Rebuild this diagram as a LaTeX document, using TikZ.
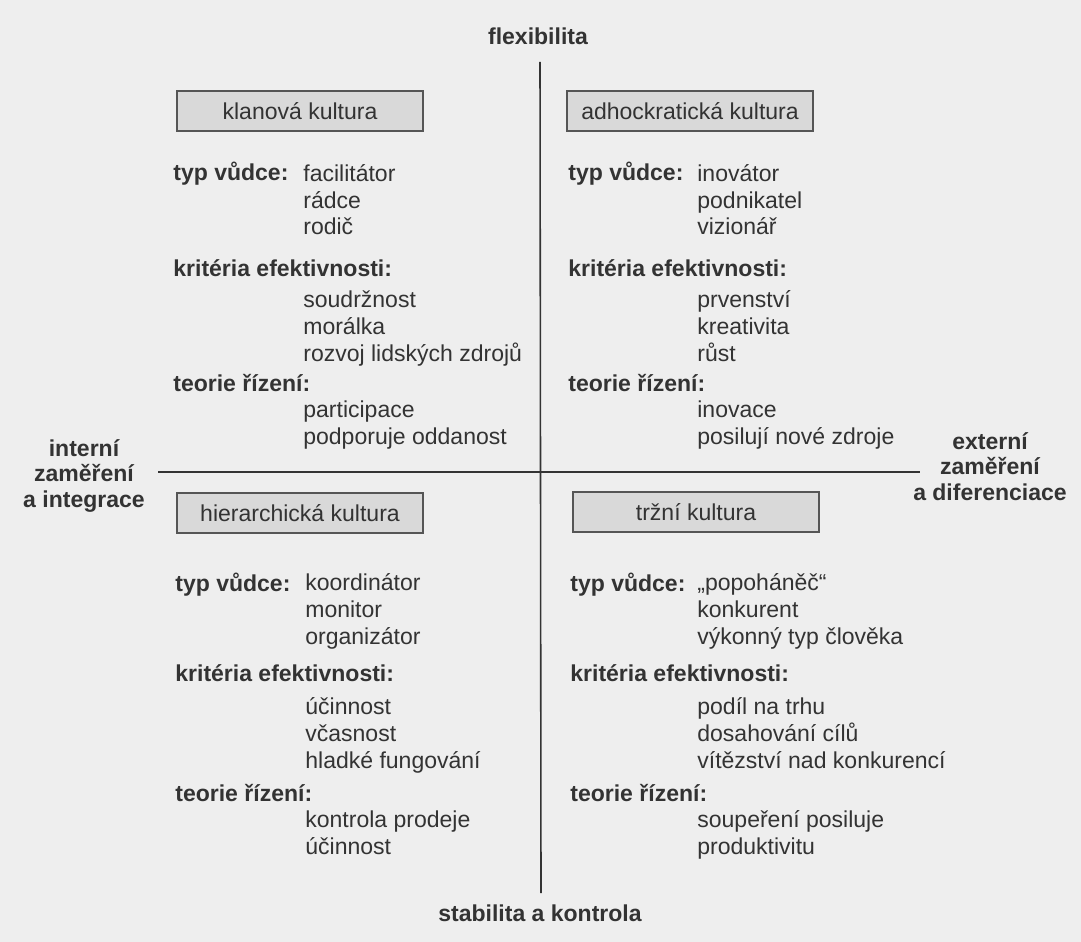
\documentclass[tikz,border=0pt]{standalone}
\usepackage{fontspec}
\setmainfont{Liberation Sans}
\usepackage{tikz}
\usetikzlibrary{positioning}

\definecolor{ink}{HTML}{333333}
\definecolor{paper}{HTML}{EEEEEE}
\definecolor{boxfill}{HTML}{D9D9D9}
\definecolor{boxline}{HTML}{555555}

\begin{document}
\begin{tikzpicture}[x=0.02cm,y=-0.02cm,
        every node/.style={text=ink,inner sep=0pt,font=\fontsize{13.1pt}{15.1pt}\selectfont},
        kultura/.style={draw=boxline,fill=boxfill,line width=0.8pt,minimum width=4.92cm,minimum height=0.8cm},
        head/.style={anchor=base west,font=\fontsize{13.1pt}{15.1pt}\selectfont\bfseries},
        val/.style={anchor=base west,align=left},
        osa/.style={align=center,font=\fontsize{13.1pt}{14.5pt}\selectfont\bfseries},
        axis/.style={draw=ink,line width=0.9pt}]

        \fill[paper] (0,0) rectangle (1081,942);
        \useasboundingbox (0,0) rectangle (1081,942);

        % osy
        \coordinate (osa_n) at (540,62);
        \coordinate (osa_s) at (541,893);
        \coordinate (osa_w) at (158,472);
        \coordinate (osa_e) at (920,472);
        \draw[axis] (osa_n) -- (osa_s);
        \draw[axis] (osa_w) -- (osa_e);

        \node[head,anchor=base] (flex) at (538,45) {flexibilita};
        \node[head,anchor=base] (stab) at (540,921) {stabilita a kontrola};
        % u viceradkovych uzlu je base posledni radek
        \node[osa,anchor=base] (intern) at (84,507) {interní\\zaměření\\a integrace};
        \node[osa,anchor=base] (extern) at (990,500) {externí\\zaměření\\a diferenciace};

        % klanova kultura
        \node[kultura] (klan) at (300,111) {klanová kultura};
        \node[head] (klan_typ) at (173,181) {typ vůdce:};
        \node[val] (klan_typ_v) at (303,235) {facilitátor\\rádce\\rodič};
        \node[head] (klan_krit) at (173,276) {kritéria efektivnosti:};
        \node[val] (klan_krit_v) at (303,361) {soudržnost\\morálka\\rozvoj lidských zdrojů};
        \node[head] (klan_teor) at (173,391) {teorie řízení:};
        \node[val] (klan_teor_v) at (303,444) {participace\\podporuje oddanost};

        % adhokraticka kultura
        \node[kultura] (adhok) at (690,111) {adhockratická kultura};
        \node[head] (adhok_typ) at (568,181) {typ vůdce:};
        \node[val] (adhok_typ_v) at (697,235) {inovátor\\podnikatel\\vizionář};
        \node[head] (adhok_krit) at (568,276) {kritéria efektivnosti:};
        \node[val] (adhok_krit_v) at (697,361) {prvenství\\kreativita\\růst};
        \node[head] (adhok_teor) at (568,391) {teorie řízení:};
        \node[val] (adhok_teor_v) at (697,444) {inovace\\posilují nové zdroje};

        % hierarchicka kultura
        \node[kultura] (hier) at (300,513) {hierarchická kultura};
        \node[head] (hier_typ) at (175,591) {typ vůdce:};
        \node[val] (hier_typ_v) at (305,644) {koordinátor\\monitor\\organizátor};
        \node[head] (hier_krit) at (175,681) {kritéria efektivnosti:};
        \node[val] (hier_krit_v) at (305,768) {účinnost\\včasnost\\hladké fungování};
        \node[head] (hier_teor) at (175,801) {teorie řízení:};
        \node[val] (hier_teor_v) at (305,854) {kontrola prodeje\\účinnost};

        % trzni kultura
        \node[kultura] (trh) at (696,512) {tržní kultura};
        \node[head] (trh_typ) at (570,591) {typ vůdce:};
        \node[val] (trh_typ_v) at (697,644) {„popoháněč“\\konkurent\\výkonný typ člověka};
        \node[head] (trh_krit) at (570,681) {kritéria efektivnosti:};
        \node[val] (trh_krit_v) at (697,768) {podíl na trhu\\dosahování cílů\\vítězství nad konkurencí};
        \node[head] (trh_teor) at (570,801) {teorie řízení:};
        \node[val] (trh_teor_v) at (697,854) {soupeření posiluje\\produktivitu};
\end{tikzpicture}
\end{document}
